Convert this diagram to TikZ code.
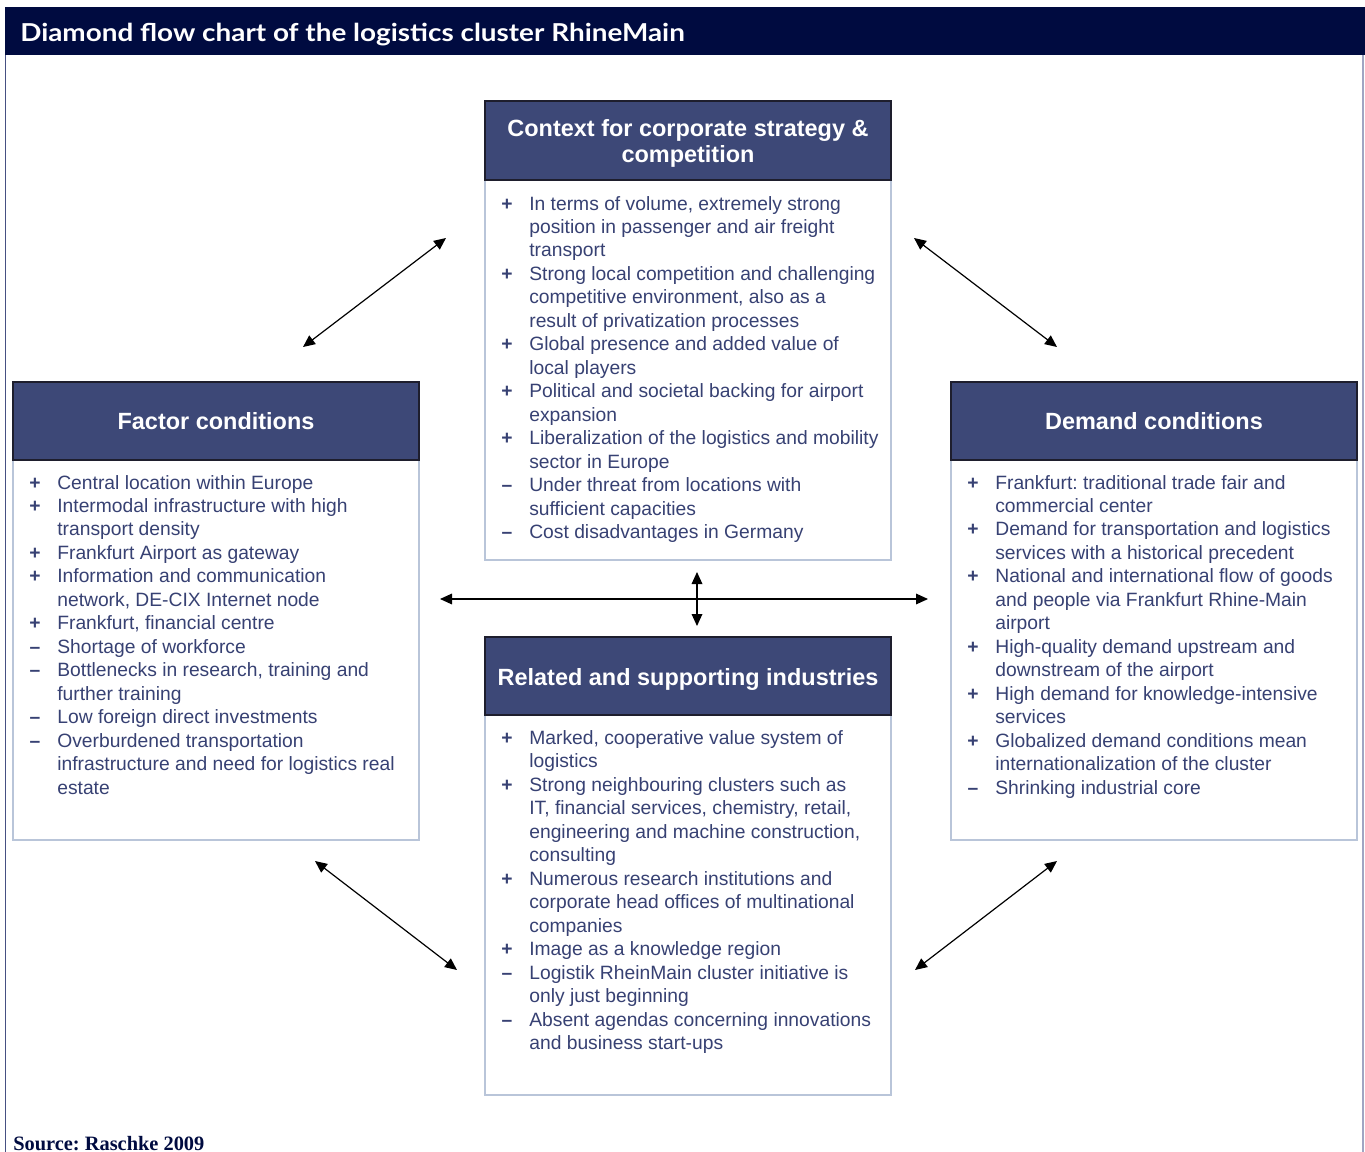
\documentclass[tikz,border=0pt]{standalone}
\usepackage{fontspec}
\setmainfont{Liberation Sans}
\newfontfamily\titlefont{Lato}
\newfontfamily\srcfont{Liberation Serif}
\usetikzlibrary{arrows.meta}
\definecolor{navy}{RGB}{0,11,64}
\definecolor{hdr}{RGB}{61,72,119}
\definecolor{txt}{RGB}{55,65,115}
\definecolor{bodyline}{RGB}{185,197,217}
\definecolor{hdrline}{RGB}{30,30,45}
\definecolor{frameL}{RGB}{70,80,130}
\definecolor{frameR}{RGB}{160,165,195}
\newcommand\pitem[2]{\par\hangindent=20.5pt\hangafter=1\noindent\strut\makebox[20.5pt][l]{\makebox[7.5pt][c]{\textbf{#1}}}#2}
\newcommand\blist[1]{\parbox[t]{290pt}{\raggedright\frenchspacing\let\\\newline\parskip=0pt\fontsize{14.45pt}{17.6pt}\selectfont #1}}
\begin{document}
\begin{tikzpicture}[x=0.75pt,y=-0.75pt,
  bodybox/.style={draw=bodyline, line width=1.1pt, fill=white, inner sep=0pt, outer sep=0pt,
    minimum width=304.5pt, minimum height=285pt, anchor=north west},
  hdrbox/.style={draw=hdrline, line width=1pt, fill=hdr, inner sep=0pt, outer sep=0pt,
    minimum width=304.5pt, anchor=north west},
  hdrtext/.style={text=white, font=\fontsize{17.6pt}{19.5pt}\selectfont\bfseries, inner sep=0pt, align=center},
  bodytext/.style={text=txt, inner sep=0pt, outer sep=0pt, anchor=north west},
  conn/.style={{Triangle[length=9pt,width=8pt]}-{Triangle[length=9pt,width=8pt]}, line width=0.9pt, black}]
\useasboundingbox (0,0) rectangle (1365,1152);
% title bar and frame
\node[fill=navy, inner sep=0pt, outer sep=0pt, minimum width=1020pt, minimum height=36pt, anchor=north west] (bar) at (5,7) {};
\node[anchor=base west, inner sep=0pt, text=white, font=\titlefont\fontsize{18.5pt}{20pt}\selectfont\bfseries] (title) at (20,42) {\scalebox{1.13}[1]{Diamond flow chart of the logistics cluster RhineMain}};
\draw[frameL, line width=0.9pt] (5.5,55) -- (5.5,1152);
\draw[frameR, line width=0.9pt] (1363,55) -- (1363,1152);
% top box
\node[bodybox] (topB) at (485,180) {};
\node[hdrbox, minimum height=59.25pt] (topH) at (485,101) {};
\node[hdrtext] (topHT) at (688,143) {Context for corporate strategy \&\\competition};
\node[bodytext] (topT) at (502,193.6) {\blist{%
\pitem{+}{In terms of volume, extremely strong\\position in passenger and air freight\\transport}
\pitem{+}{Strong local competition and challenging\\competitive environment, also as a\\result of privatization processes}
\pitem{+}{Global presence and added value of\\local players}
\pitem{+}{Political and societal backing for airport\\expansion}
\pitem{+}{Liberalization of the logistics and mobility\\sector in Europe}
\pitem{--}{Under threat from locations with\\sufficient capacities}
\pitem{--}{Cost disadvantages in Germany}}};
% left box
\node[bodybox] (leftB) at (13,460) {};
\node[hdrbox, minimum height=58.5pt] (leftH) at (13,382) {};
\node[hdrtext, anchor=base] (leftHT) at (216,429) {Factor conditions};
\node[bodytext] (leftT) at (30,472.6) {\blist{%
\pitem{+}{Central location within Europe}
\pitem{+}{Intermodal infrastructure with high\\transport density}
\pitem{+}{Frankfurt Airport as gateway}
\pitem{+}{Information and communication\\network, DE-CIX Internet node}
\pitem{+}{Frankfurt, financial centre}
\pitem{--}{Shortage of workforce}
\pitem{--}{Bottlenecks in research, training and\\further training}
\pitem{--}{Low foreign direct investments}
\pitem{--}{Overburdened transportation\\infrastructure and need for logistics real\\estate}}};
% right box
\node[bodybox] (rightB) at (951,460) {};
\node[hdrbox, minimum height=58.5pt] (rightH) at (951,382) {};
\node[hdrtext, anchor=base] (rightHT) at (1154,429) {Demand conditions};
\node[bodytext] (rightT) at (968,472.6) {\blist{%
\pitem{+}{Frankfurt: traditional trade fair and\\commercial center}
\pitem{+}{Demand for transportation and logistics\\services with a historical precedent}
\pitem{+}{National and international flow of goods\\and people via Frankfurt Rhine-Main\\airport}
\pitem{+}{High-quality demand upstream and\\downstream of the airport}
\pitem{+}{High demand for knowledge-intensive\\services}
\pitem{+}{Globalized demand conditions mean\\internationalization of the cluster}
\pitem{--}{Shrinking industrial core}}};
% bottom box
\node[bodybox] (botB) at (485,715) {};
\node[hdrbox, minimum height=58.5pt] (botH) at (485,637) {};
\node[hdrtext, anchor=base] (botHT) at (688,685) {Related and supporting industries};
\node[bodytext] (botT) at (502,728) {\blist{%
\pitem{+}{Marked, cooperative value system of\\logistics}
\pitem{+}{Strong neighbouring clusters such as\\IT, financial services, chemistry, retail,\\engineering and machine construction,\\consulting}
\pitem{+}{Numerous research institutions and\\corporate head offices of multinational\\companies}
\pitem{+}{Image as a knowledge region}
\pitem{--}{Logistik RheinMain cluster initiative is\\only just beginning}
\pitem{--}{Absent agendas concerning innovations\\and business start-ups}}};
% arrow end points
\coordinate (tlA) at (446,238); \coordinate (tlB) at (303,347);
\coordinate (trA) at (914,238); \coordinate (trB) at (1057,347);
\coordinate (blA) at (315,861); \coordinate (blB) at (457,970);
\coordinate (brA) at (1057,861); \coordinate (brB) at (915,970);
\coordinate (hA) at (440,599); \coordinate (hB) at (928,599);
\coordinate (vA) at (697,572); \coordinate (vB) at (697,626);
\draw[conn] (tlA) -- (tlB);
\draw[conn] (trA) -- (trB);
\draw[conn] (blA) -- (blB);
\draw[conn] (brA) -- (brB);
\draw[conn] (hA) -- (hB);
\draw[conn] (vA) -- (vB);
% source
\node[anchor=base west, inner sep=0pt, text=navy, font=\srcfont\fontsize{15.3pt}{17pt}\selectfont\bfseries\frenchspacing] (src) at (13,1150) {Source: Raschke 2009};
\end{tikzpicture}
\end{document}
